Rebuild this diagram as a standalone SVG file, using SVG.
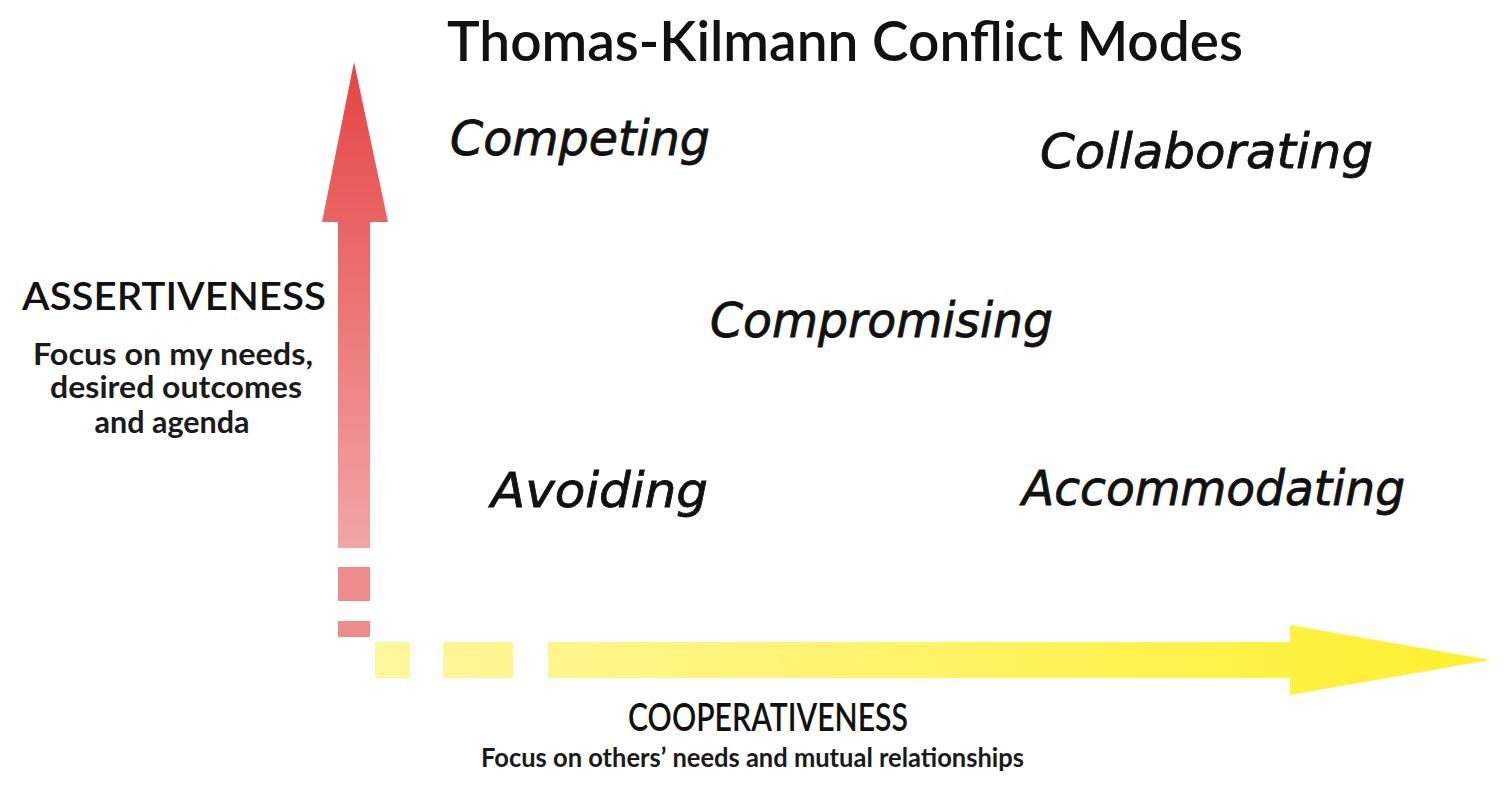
<svg xmlns="http://www.w3.org/2000/svg" width="1507" height="785" viewBox="0 0 1507 785">
  <style>
    .title { font-family: Lato, "Open Sans", sans-serif; font-size: 56px; font-weight: 600; fill: #111; }
    .mode { font-family: "DejaVu Sans", sans-serif; font-style: italic; font-size: 48px; fill: #111; stroke: #111; stroke-width: 0.8px; }
    .axis { font-family: Lato, "Open Sans", sans-serif; font-size: 39px; font-weight: 600; fill: #111; }
    .sub { font-family: Lato, "Open Sans", sans-serif; font-size: 30px; font-weight: bold; fill: #1a1a1a; }
    .sub-small { font-size: 26px; }
  </style>
  <defs>
    <linearGradient id="redFade" x1="0" y1="62" x2="0" y2="548" gradientUnits="userSpaceOnUse">
      <stop offset="0" stop-color="#e54443"/>
      <stop offset="1" stop-color="#f2a6a6"/>
    </linearGradient>
    <linearGradient id="yellowFade" x1="375" y1="0" x2="1490" y2="0" gradientUnits="userSpaceOnUse">
      <stop offset="0" stop-color="#fff79e"/>
      <stop offset="1" stop-color="#fff02e"/>
    </linearGradient>
  </defs>

  <rect width="1507" height="785" fill="#ffffff"/>

  <text class="title" x="447" y="61" textLength="796" lengthAdjust="spacingAndGlyphs">Thomas-Kilmann Conflict Modes</text>

  <!-- axes: assertiveness (vertical) and cooperativeness (horizontal) -->
  <g id="connectors">
    <g id="assertiveness-arrow">
      <polygon points="354,62 388,222 370,222 370,548 338,548 338,222 322,222" fill="url(#redFade)"/>
      <rect x="338" y="567" width="32" height="34" fill="#ee8b8b"/>
      <rect x="338" y="621" width="32" height="16" fill="#ee8b8b"/>
    </g>
    <g id="cooperativeness-arrow" fill="url(#yellowFade)">
      <rect x="375" y="642" width="35" height="36"/>
      <rect x="443" y="642" width="70" height="36"/>
      <polygon points="548,642 1290,642 1290,625 1490,660 1290,695 1290,678 548,678"/>
    </g>
  </g>

  <g id="assertiveness-label">
    <text class="axis" x="22" y="310" textLength="304" lengthAdjust="spacingAndGlyphs">ASSERTIVENESS</text>
    <text class="sub" x="173" y="365" text-anchor="middle" textLength="280" lengthAdjust="spacingAndGlyphs">Focus on my needs,</text>
    <text class="sub" x="176" y="398" text-anchor="middle" textLength="252" lengthAdjust="spacingAndGlyphs">desired outcomes</text>
    <text class="sub" x="172" y="433" text-anchor="middle" textLength="155" lengthAdjust="spacingAndGlyphs">and agenda</text>
  </g>

  <g id="cooperativeness-label">
    <text class="axis" x="628" y="731" font-size="37" textLength="280" lengthAdjust="spacingAndGlyphs">COOPERATIVENESS</text>
    <text class="sub sub-small" x="481" y="767" textLength="543" lengthAdjust="spacingAndGlyphs">Focus on others’ needs and mutual relationships</text>
  </g>

  <g id="competing"><text class="mode" x="450" y="155" textLength="260" lengthAdjust="spacingAndGlyphs">Competing</text></g>
  <g id="collaborating"><text class="mode" x="1040" y="168" textLength="333" lengthAdjust="spacingAndGlyphs">Collaborating</text></g>
  <g id="compromising"><text class="mode" x="710" y="337" textLength="343" lengthAdjust="spacingAndGlyphs">Compromising</text></g>
  <g id="avoiding"><text class="mode" x="491" y="507" textLength="217" lengthAdjust="spacingAndGlyphs">Avoiding</text></g>
  <g id="accommodating"><text class="mode" x="1022" y="505" textLength="383" lengthAdjust="spacingAndGlyphs">Accommodating</text></g>
</svg>
